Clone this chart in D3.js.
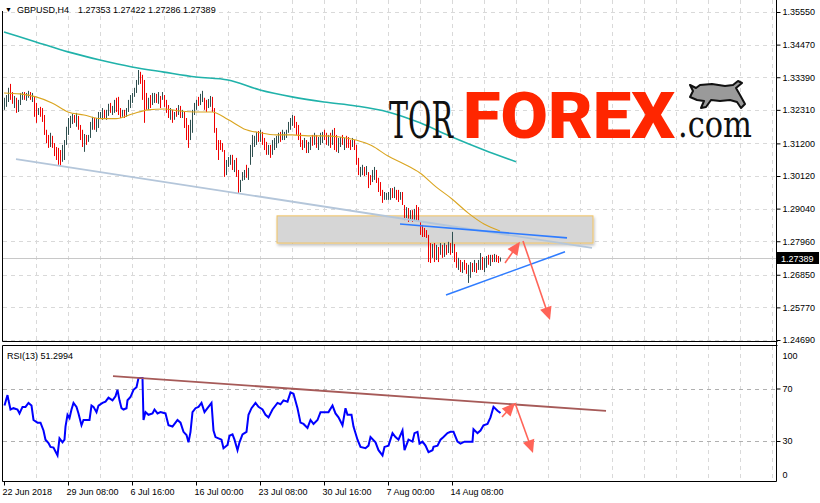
<!DOCTYPE html>
<html><head><meta charset="utf-8">
<script src="https://cdn.jsdelivr.net/npm/d3@7"></script>
<style>body{margin:0;background:#fff}svg{display:block}text{font-family:"Liberation Sans",Arial,sans-serif}</style>
</head><body><svg id="c" width="820" height="503"></svg>
<script>
const symbol="GBPUSD,H4";
const lastOHLC=[1.27353,1.27422,1.27286,1.27389];
const priceTicks=[1.3555,1.3447,1.3339,1.3231,1.3120,1.3012,1.2904,1.2796,1.2685,1.2577,1.2469];
const rsiTicks=[0,30,70,100];
const timeIdx=[0,32,64,96,128,160,192,224];
const timeLabels=["22 Jun 2018","29 Jun 08:00","6 Jul 16:00","16 Jul 00:00","23 Jul 08:00","30 Jul 16:00","7 Aug 00:00","14 Aug 08:00"];
const barHigh=[
1.3271,1.3280,1.3304,1.3317,1.3290,1.3277,1.3271,1.3264,1.3287,1.3290,
1.3290,1.3287,1.3294,1.3290,1.3287,1.3274,1.3254,1.3237,1.3241,1.3237,
1.3214,1.3165,1.3148,1.3155,1.3145,1.3121,1.3108,1.3105,1.3098,1.3115,
1.3131,1.3175,1.3204,1.3211,1.3218,1.3214,1.3221,1.3211,1.3181,1.3165,
1.3151,1.3148,1.3148,1.3191,1.3208,1.3204,1.3204,1.3224,1.3224,1.3237,
1.3231,1.3231,1.3251,1.3254,1.3244,1.3264,1.3271,1.3274,1.3237,1.3231,
1.3231,1.3237,1.3264,1.3280,1.3287,1.3304,1.3330,1.3363,1.3357,1.3347,
1.3330,1.3287,1.3271,1.3280,1.3287,1.3287,1.3284,1.3290,1.3277,1.3290,
1.3280,1.3264,1.3247,1.3237,1.3231,1.3224,1.3237,1.3247,1.3244,1.3231,
1.3224,1.3204,1.3181,1.3198,1.3231,1.3254,1.3264,1.3274,1.3284,1.3294,
1.3271,1.3264,1.3267,1.3277,1.3274,1.3237,1.3171,1.3131,1.3131,1.3121,
1.3098,1.3065,1.3075,1.3082,1.3082,1.3065,1.3072,1.3032,1.2999,1.3025,
1.3032,1.3049,1.3039,1.3115,1.3148,1.3145,1.3158,1.3161,1.3165,1.3158,
1.3138,1.3125,1.3115,1.3115,1.3131,1.3138,1.3145,1.3155,1.3158,1.3165,
1.3158,1.3165,1.3191,1.3204,1.3214,1.3211,1.3191,1.3181,1.3155,1.3131,
1.3138,1.3131,1.3125,1.3141,1.3148,1.3155,1.3148,1.3141,1.3155,1.3158,
1.3165,1.3155,1.3148,1.3155,1.3165,1.3171,1.3148,1.3138,1.3141,1.3148,
1.3138,1.3145,1.3141,1.3131,1.3138,1.3131,1.3115,1.3072,1.3042,1.3049,
1.3042,1.3045,1.3025,1.3015,1.3032,1.3042,1.3032,1.3006,1.2992,1.2966,
1.2959,1.2956,1.2959,1.2972,1.2972,1.2976,1.2966,1.2966,1.2959,1.2959,
1.2916,1.2909,1.2906,1.2899,1.2899,1.2903,1.2916,1.2909,1.2860,1.2850,
1.2840,1.2833,1.2817,1.2790,1.2787,1.2790,1.2784,1.2777,1.2790,1.2784,
1.2790,1.2784,1.2794,1.2790,1.2827,1.2787,1.2760,1.2741,1.2734,1.2727,
1.2734,1.2724,1.2718,1.2727,1.2724,1.2734,1.2724,1.2734,1.2757,1.2744,
1.2741,1.2747,1.2751,1.2751,1.2751,1.2754,1.2751,1.2747,1.27422];
const barLow=[
1.3231,1.3241,1.3257,1.3264,1.3251,1.3237,1.3221,1.3224,1.3247,1.3264,
1.3264,1.3261,1.3271,1.3264,1.3257,1.3208,1.3188,1.3214,1.3208,1.3191,
1.3148,1.3121,1.3105,1.3108,1.3105,1.3078,1.3065,1.3049,1.3045,1.3059,
1.3065,1.3115,1.3148,1.3171,1.3184,1.3188,1.3175,1.3165,1.3131,1.3108,
1.3092,1.3115,1.3125,1.3138,1.3165,1.3165,1.3158,1.3171,1.3204,1.3198,
1.3204,1.3198,1.3211,1.3221,1.3214,1.3221,1.3224,1.3214,1.3204,1.3208,
1.3204,1.3208,1.3224,1.3237,1.3254,1.3274,1.3287,1.3314,1.3317,1.3264,
1.3188,1.3231,1.3231,1.3237,1.3247,1.3254,1.3254,1.3251,1.3237,1.3264,
1.3241,1.3221,1.3204,1.3198,1.3188,1.3198,1.3208,1.3214,1.3204,1.3204,
1.3171,1.3131,1.3105,1.3131,1.3155,1.3214,1.3231,1.3244,1.3247,1.3257,
1.3231,1.3224,1.3237,1.3241,1.3224,1.3155,1.3098,1.3065,1.3098,1.3092,
1.3009,1.3015,1.3042,1.3049,1.3032,1.3025,1.3009,1.2956,1.2959,1.2996,
1.2999,1.3006,1.2999,1.3049,1.3075,1.3108,1.3115,1.3125,1.3125,1.3115,
1.3098,1.3082,1.3082,1.3072,1.3082,1.3098,1.3105,1.3121,1.3125,1.3131,
1.3131,1.3138,1.3155,1.3165,1.3178,1.3171,1.3148,1.3131,1.3108,1.3098,
1.3105,1.3088,1.3088,1.3098,1.3112,1.3115,1.3105,1.3098,1.3115,1.3121,
1.3131,1.3115,1.3112,1.3105,1.3115,1.3098,1.3092,1.3088,1.3108,1.3115,
1.3098,1.3105,1.3105,1.3098,1.3108,1.3098,1.3049,1.3015,1.3009,1.3015,
1.3012,1.3015,1.2972,1.2982,1.2992,1.2999,1.2989,1.2959,1.2946,1.2923,
1.2933,1.2933,1.2933,1.2933,1.2939,1.2939,1.2933,1.2926,1.2933,1.2916,
1.2866,1.2873,1.2860,1.2866,1.2860,1.2866,1.2866,1.2860,1.2817,1.2810,
1.2810,1.2807,1.2727,1.2724,1.2741,1.2727,1.2734,1.2727,1.2751,1.2741,
1.2744,1.2751,1.2757,1.2751,1.2757,1.2727,1.2708,1.2701,1.2694,1.2691,
1.2701,1.2688,1.2658,1.2675,1.2694,1.2694,1.2691,1.2701,1.2701,1.2701,
1.2694,1.2708,1.2718,1.2714,1.2727,1.2727,1.2727,1.2724,1.27286];
const barDir="uuudduduuu"+"duududdudd"+"dddudddddu"+"uuuuududdd"+"uduuuduuuu"+"duuduudddu"+"duuuuuuudd"+"dduduududu"+"dddudududu"+"ddduuuuduu"+
"dduudddddd"+"duuududduu"+"uduuuuudud"+"dduduuuudu"+"uuuuuddddd"+"uduududuuu"+"ddududduud"+"uddduddduu"+"dudduudddd"+"uuuududdud"+
"dudududddd"+"ddddududud"+"udududdudu"+"dduududuud"+"uudududdu";
const maSlowStep=16;
const maSlow=[1.3489,1.3456,1.3423,1.3396,1.3373,1.3356,1.3340,1.3330,1.3297,1.3274,1.3257,1.3244,1.3224,1.3188,1.3141,1.3098,1.3059];
const maFastStep=8;
const maFast=[1.3287,1.3284,1.3274,1.3254,1.3224,1.3214,1.3202,1.3202,1.3217,1.3231,1.3234,1.3227,1.3224,1.3224,1.3199,1.3168,1.3155,1.3148,1.3148,1.3145,1.3145,1.3141,1.3131,1.3112,1.3078,1.3052,1.3022,1.2976,1.2936,1.2890,1.2853,1.2830];
const rsiIdx=[0,1.5,2,3,4.5,6.5,7.5,9,10.5,12,13.5,14.5,16.5,18,19.5,20.5,22,23,24.5,25.5,26.5,27.5,29,30,30.5,31.5,32.5,33.5,34.5,36,37,38.5,39.5,41.5,42.5,43.5,44.5,46,47,49,50.5,52,54,55.5,56.5,57.5,58.5,59.5,61,61.5,63,64.5,66,67,69,69.5,70.5,72,74,75,76.5,78,80.5,82,84,85.5,86.5,88,89.5,91,92,93,94,95.5,97,98.5,100,101.5,103.5,104.5,105.5,107,108.5,109.5,111.5,112.5,114,115,116.5,117.5,119,121,122,123.5,125.5,127,129,130.5,132,134,136.5,138,139.5,141.5,143,144.5,146.5,148,149.5,151.5,153,154.5,156.5,158,160.5,162,164,165.5,167,169,170.5,171.5,173.5,174.5,176.5,178,180.5,182,183,185.5,187,189,190,192,194,195.5,197,199,200,202,204,205,206.5,207.5,209,210.5,212,214,214.5,216.5,218,219.5,221.5,223,224.5,226.5,228,230,232,234,234.5,236.5,238,239.5,241.5,243,244.5,246.5,248];
const rsiVal=[57,65,61,54,55,54,51,56,56,59,57,46,44,44,38,31,28.5,25.5,25,22,19,32,29,31,41,50,47.5,54,59,56,51,42,46,46,46,57,56,52,57,59,60,63,61,64,69,61,55,54,55,61,63.5,69,71,78,78,46,52,50,51,54,51,52,51,42,41,44,46,44,37,34.5,29,37,52,55,56,59,52,55,59,38,33,32,31,24.5,27,34,35,31,23,29,35,37,50,55,59,56,54,50,48,54,59,58,61,60,67,66,55,44,43,40,46,43,46,52,52,52,57,51,48,42,55,50,50,41,31,25.5,24.5,26.5,33,29,23,19,25.5,26.5,36,33,31,38,23,31,29.5,36,37,28,29.5,26.5,21.5,23,25.5,26.5,31,33,36,37,37,29.5,28,29.5,29.5,29.5,39,36,38,42,43,48,56,53,51.2994];
const rsiLast=51.2994;
const trendFrom=[[6,1.3068],[198,1.2853],[221,1.2618]];
const trendTo=[[294,1.2774],[281.5,1.2807],[280.5,1.2761]];
const trendColors=["#b4c6da","#2f7cff","#2f7cff"];
const zoneIdx=[136.5,294.5], zonePrice=[1.2880,1.2790];
const arrowFrom=[[250.5,1.2724],[259.5,1.2797]];
const arrowTo=[[258,1.2794],[273,1.2535]];
const rsiTrendFrom=[54.5,79.5], rsiTrendTo=[301,52.9];
const rsiArrowFrom=[[249,48.3],[255.5,59]];
const rsiArrowTo=[[255.5,59],[264.5,20.9]];

const svg=d3.select("#c");
const x=d3.scaleLinear().domain([0,100]).range([4,204]);
const y=d3.scaleLinear().domain([1.2469,1.3555]).range([340,12]);
const yr=d3.scaleLinear().domain([30,70]).range([441,388.5]);
const L=2.5,R=776.5,mainB=341.5,rsiT=345.5,rsiB=481.5;

const defs=svg.append("defs");
defs.append("clipPath").attr("id","cm").append("rect").attr("x",3).attr("y",0).attr("width",773).attr("height",341);
defs.append("clipPath").attr("id","cr").append("rect").attr("x",3).attr("y",346).attr("width",773).attr("height",135);
const f=defs.append("filter").attr("id","sh").attr("x","-5%").attr("y","-20%").attr("width","110%").attr("height","150%");
f.append("feDropShadow").attr("dx",1).attr("dy",2).attr("stdDeviation",1.5).attr("flood-color","#000").attr("flood-opacity",0.25);

// grids
const gridIdx=d3.range(16,390,16);
const gm=svg.append("g").attr("clip-path","url(#cm)");
const gr=svg.append("g").attr("clip-path","url(#cr)");
gm.selectAll("line.v").data(gridIdx).join("line").attr("x1",d=>x(d)+0.5).attr("x2",d=>x(d)+0.5).attr("y1",0).attr("y2",341)
 .attr("stroke","#d9d9d9").attr("stroke-dasharray","4,4");
gm.selectAll("line.h").data(priceTicks).join("line").attr("x1",3).attr("x2",776).attr("y1",d=>Math.round(y(d))+0.5).attr("y2",d=>Math.round(y(d))+0.5)
 .attr("stroke","#d9d9d9").attr("stroke-dasharray","4,4");
gr.selectAll("line.v").data(gridIdx).join("line").attr("x1",d=>x(d)+0.5).attr("x2",d=>x(d)+0.5).attr("y1",346).attr("y2",481)
 .attr("stroke","#d9d9d9").attr("stroke-dasharray","4,4");
gr.selectAll("line.h").data([30,70]).join("line").attr("x1",3).attr("x2",776).attr("y1",d=>Math.round(yr(d))+0.5).attr("y2",d=>Math.round(yr(d))+0.5)
 .attr("stroke","#b0b0b0").attr("stroke-dasharray","4,4");

// zone
gm.append("rect").attr("x",x(zoneIdx[0])).attr("y",y(zonePrice[0])).attr("width",x(zoneIdx[1])-x(zoneIdx[0])).attr("height",y(zonePrice[1])-y(zonePrice[0]))
 .attr("fill","#d6d6d6").attr("stroke","#f2c462").attr("stroke-width",1).attr("filter","url(#sh)");

// current price line
const cy=Math.round(y(lastOHLC[3]))+0.5;
gm.append("line").attr("x1",3).attr("x2",776).attr("y1",cy).attr("y2",cy).attr("stroke","#c8c8c8");

// logo (texts squeezed with a transform so their boxes match what is drawn)
const lg=svg.append("g");
function logoText(str,x0,y0,w,style,fill){
 const t=lg.append("text").attr("x",0).attr("y",0).attr("fill",fill).text(str);
 Object.entries(style).forEach(([k,v])=>t.style(k,v));
 const len=t.node().getComputedTextLength()||w;
 t.attr("transform",`translate(${x0},${y0}) scale(${w/len},1)`);
}
logoText("TOR",389,138,64,{"font-family":"'DejaVu Serif',serif","font-size":"50px"},"#111");
logoText("FOREX",463,138,212,{"font-family":"Roboto,'Open Sans',sans-serif","font-weight":"900","font-size":"65px"},"#ff2600");
logoText(".com",678,137,74,{"font-family":"'DejaVu Serif',serif","font-size":"38px"},"#111");
lg.append("path").attr("d","M690,97 L693,91 L690,85 L696,88 L700,85 L712,84 L725,86 L733,85 L738,81 L742,83 L736,88 L740,95 L745,104 L741,108 L737,102 L730,100 L720,101 L711,100 L706,107 L701,108 L704,101 L697,100 Z")
 .attr("fill","#9a9a9a").attr("stroke","#111").attr("stroke-width",2).attr("stroke-linejoin","round");

// bars
const bars=d3.range(barHigh.length);
gm.selectAll("line.bar").data(bars).join("line").attr("class","bar")
 .attr("x1",i=>x(i)+0.5).attr("x2",i=>x(i)+0.5).attr("y1",i=>y(barHigh[i])).attr("y2",i=>y(barLow[i]))
 .attr("stroke",i=>barDir[i]==="d"?"#f00000":"#2f4f4f").attr("stroke-width",1);

// moving averages
const line=d3.line().curve(d3.curveMonotoneX);
gm.append("path").attr("d",line(maSlow.map((v,k)=>[x(k*maSlowStep),y(v)]))).attr("fill","none").attr("stroke","#20b2aa").attr("stroke-width",1.6);
gm.append("path").attr("d",line(maFast.map((v,k)=>[x(k*maFastStep),y(v)]))).attr("fill","none").attr("stroke","#daa520").attr("stroke-width",1.1);

// trend lines
trendFrom.forEach((a,k)=>{
 gm.append("line").attr("x1",x(a[0])).attr("y1",y(a[1])).attr("x2",x(trendTo[k][0])).attr("y2",y(trendTo[k][1]))
  .attr("stroke",trendColors[k]).attr("stroke-width",k===0?1.8:1.6);
});

function arrow(g,x1,y1,x2,y2,col){
 const a=Math.atan2(y2-y1,x2-x1),Lh=13,w=6;
 const bx=x2-Lh*Math.cos(a),by=y2-Lh*Math.sin(a);
 g.append("line").attr("x1",x1).attr("y1",y1).attr("x2",bx+2*Math.cos(a)).attr("y2",by+2*Math.sin(a)).attr("stroke",col).attr("stroke-width",1.6);
 const px=-Math.sin(a)*w,py=Math.cos(a)*w;
 g.append("path").attr("d",`M${x2},${y2}L${bx+px},${by+py}L${bx-px},${by-py}Z`).attr("fill",col);
}
arrowFrom.forEach((a,k)=>arrow(gm,x(a[0]),y(a[1]),x(arrowTo[k][0]),y(arrowTo[k][1]),"#ff6458"));

// RSI
gr.append("path").attr("d",d3.line()(rsiIdx.map((d,k)=>[x(d)+0.5,yr(rsiVal[k])]))).attr("fill","none").attr("stroke","#0000ff").attr("stroke-width",2);
gr.append("line").attr("x1",x(rsiTrendFrom[0])).attr("y1",yr(rsiTrendFrom[1])).attr("x2",x(rsiTrendTo[0])).attr("y2",yr(rsiTrendTo[1]))
 .attr("stroke","#a65a58").attr("stroke-width",1.8);
rsiArrowFrom.forEach((a,k)=>arrow(gr,x(a[0]),yr(a[1]),x(rsiArrowTo[k][0]),yr(rsiArrowTo[k][1]),"#ff6458"));

// frames
const fr=svg.append("g").attr("stroke","#000").attr("stroke-width",1);
fr.append("line").attr("x1",L).attr("x2",L).attr("y1",0).attr("y2",mainB);
fr.append("line").attr("x1",L).attr("x2",R+1).attr("y1",mainB).attr("y2",mainB);
fr.append("line").attr("x1",L).attr("x2",R+1).attr("y1",rsiT).attr("y2",rsiT);
fr.append("line").attr("x1",L).attr("x2",L).attr("y1",rsiT).attr("y2",rsiB);
fr.append("line").attr("x1",L).attr("x2",R).attr("y1",rsiB).attr("y2",rsiB);
fr.append("line").attr("x1",R).attr("x2",R).attr("y1",0).attr("y2",rsiB);

// header
svg.append("rect").attr("x",0).attr("y",0).attr("width",262).attr("height",11).attr("fill","#fff");
svg.append("text").attr("x",5).attr("y",12).style("font-size","7px").text("▼");
svg.append("text").attr("x",17).attr("y",13).style("font-size","9px").text(symbol);
svg.append("text").attr("x",78).attr("y",13).style("font-size","9px").text(lastOHLC.map(d3.format(".5f")).join(" "));
svg.append("text").attr("x",7).attr("y",359).style("font-size","9px").text("RSI(13) "+d3.format(".4f")(rsiLast));

// axes
const ay=svg.append("g").attr("transform",`translate(${R},0)`).call(d3.axisRight(y).tickValues(priceTicks).tickFormat(d3.format(".5f")).tickSize(4).tickPadding(2));
const ar=svg.append("g").attr("transform",`translate(${R},0)`).call(d3.axisRight(yr).tickValues(rsiTicks).tickFormat(d=>d).tickSize(4).tickPadding(2));
ar.selectAll(".tick").filter(d=>d===100).select("text").attr("dy","1.0em");
ar.selectAll(".tick").filter(d=>d===0).select("text").attr("dy","-0.3em");
ar.selectAll(".tick").filter(d=>d===0||d===100).select("line").remove();
const ax=svg.append("g").attr("transform",`translate(0,${rsiB})`).call(d3.axisBottom(x).tickValues(timeIdx).tickFormat((d,i)=>timeLabels[i]).tickSize(4).tickPadding(3));
ax.selectAll("text").attr("text-anchor","start").attr("dx",-2);
[ay,ar,ax].forEach(g=>{g.select(".domain").remove();g.selectAll("text").style("font-size","9px").style("font-family","'Liberation Sans',Arial,sans-serif").attr("fill","#000");g.selectAll("line").attr("stroke","#000");});

// current price label
svg.append("rect").attr("x",777).attr("y",cy-6.5).attr("width",42).attr("height",12).attr("fill","#000");
svg.append("text").attr("x",781).attr("y",cy).attr("dy","0.35em").style("font-size","9px").attr("fill","#fff").text(d3.format(".5f")(lastOHLC[3]));
</script></body></html>
